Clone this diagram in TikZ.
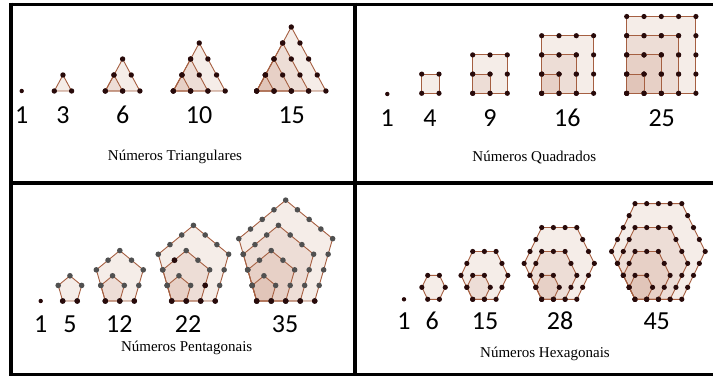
\documentclass[tikz,border=0pt]{standalone}
\usepackage{fontspec}
\newfontfamily\numfont{Carlito}
\newfontfamily\titfont{Liberation Serif}
\usetikzlibrary{calc}
\definecolor{linha}{RGB}{165,95,65}
\definecolor{preenche}{RGB}{195,140,115}
\definecolor{escuro}{RGB}{40,10,10}
\definecolor{cinza}{RGB}{80,80,80}
\tikzstyle{figura}  = [draw=linha, line width=0.9pt, fill=preenche, fill opacity=0.16]
\tikzstyle{ponto}   = [fill=escuro]
\tikzstyle{pontoc}  = [fill=cinza]
\tikzstyle{numero}  = [anchor=base, inner sep=0pt, font=\numfont\fontsize{26}{26}\selectfont]
\tikzstyle{titulo}  = [anchor=base, inner sep=0pt, font=\titfont\fontsize{15}{15}\selectfont]
\tikzstyle{moldura} = [line width=4pt]

\begin{document}
\begin{tikzpicture}[x=1pt,y=-1pt]
\useasboundingbox (0,0) rectangle (713,378);

% moldura
\draw[moldura] (11,2.5) -- (11,376);
\draw[moldura] (354.7,2.5) -- (354.7,376);
\draw[moldura,line width=3pt] (9,4.5) -- (713,4.5);
\draw[moldura] (9,183) -- (713,183);
\draw[moldura,line width=3pt] (9,374.7) -- (713,374.7);

% triangulares
\fill[ponto] (21.7,91) circle[radius=2.2pt];
\foreach \x/\n in {54.3/1,105.3/2,173.3/3,256.7/4}{
  \foreach \k in {\n,...,1}{
    \filldraw[figura] (\x,91) coordinate (v0) -- ++(\k*17.3,0) coordinate (v1)
      -- ++(-\k*8.65,-\k*16) coordinate (v2) -- cycle;
    \foreach \a/\b in {v0/v1,v1/v2,v2/v0}
      \foreach \t in {1,...,\k}
        \fill[ponto] ($(\a)!\t/\k!(\b)$) circle[radius=2.7pt];
  }
}
\node[numero] (t1) at (21.7,123) {1};
\node[numero] (t3) at (63,123) {3};
\node[numero] (t6) at (122.7,123) {6};
\node[numero] (t10) at (199,123) {10};
\node[numero] (t15) at (291.7,123) {15};
\node[titulo] (tri) at (175,160) {Números Triangulares};

% quadrados
\fill[ponto] (387.3,94) circle[radius=2.2pt];
\foreach \x/\n in {421.7/1,472.7/2,541.7/3,626.7/4}{
  \foreach \k in {\n,...,1}{
    \filldraw[figura] (\x,93.3) rectangle ++(\k*17.3,-\k*19.2);
    \foreach \i in {0,...,\k}
      \foreach \j in {0,...,\k}
        \fill[ponto] (\x+\i*17.3,93.3-\j*19.2) circle[radius=2.6pt];
  }
}
\node[numero] (q1) at (387.3,126) {1};
\node[numero] (q4) at (430,126) {4};
\node[numero] (q9) at (490,126) {9};
\node[numero] (q16) at (567.3,126) {16};
\node[numero] (q25) at (661.7,126) {25};
\node[titulo] (qua) at (534.3,161.7) {Números Quadrados};

% pentagonais
\fill[ponto] (40.7,301) circle[radius=2.2pt];
\foreach \x/\n in {62.7/1,105.3/2,171.7/3,256.7/4}{
  \foreach \k in {\n,...,1}{
    \filldraw[figura] (\x,301) coordinate (v0) -- ++(\k*14.5,0) coordinate (v1)
      -- ++(\k*4.481,-\k*15.583) coordinate (v2) -- ++(-\k*11.73,-\k*9.632) coordinate (v3)
      -- ++(-\k*11.73,\k*9.632) coordinate (v4) -- cycle;
    \foreach \a/\b in {v0/v1,v1/v2,v2/v3,v3/v4,v4/v0}
      \foreach \t in {1,...,\k}
        \fill[pontoc] ($(\a)!\t/\k!(\b)$) circle[radius=2.8pt];
  }
  \foreach \t in {0,...,\n}
    \fill[ponto] (\x+\t*14.5,301) circle[radius=2.8pt];
}
\fill[ponto] (205.2,285.4) circle[radius=2.8pt];
\fill[ponto] (174.5,260.2) circle[radius=2.8pt];
\node[numero] (p1) at (40.7,332) {1};
\node[numero] (p5) at (70,332) {5};
\node[numero] (p12) at (119.3,332) {12};
\node[numero] (p22) at (188,332) {22};
\node[numero] (p35) at (285,332) {35};
\node[titulo] (pen) at (186.7,351.7) {Números Pentagonais};

% hexagonais
\fill[ponto] (404,299.3) circle[radius=2.2pt];
\foreach \x/\n in {427.7/1,472.7/2,541.7/3,635/4}{
  \foreach \k in {\n,...,1}{
    \filldraw[figura] (\x,299.3) coordinate (v0) -- ++(\k*11.7,0) coordinate (v1)
      -- ++(\k*5.85,-\k*11.96) coordinate (v2) -- ++(-\k*5.85,-\k*11.96) coordinate (v3)
      -- ++(-\k*11.7,0) coordinate (v4) -- ++(-\k*5.85,\k*11.96) coordinate (v5) -- cycle;
    \foreach \a/\b in {v0/v1,v1/v2,v2/v3,v3/v4,v4/v5,v5/v0}
      \foreach \t in {1,...,\k}
        \fill[ponto] ($(\a)!\t/\k!(\b)$) circle[radius=2.6pt];
  }
}
\node[numero] (h1) at (404,329) {1};
\node[numero] (h6) at (432.3,329) {6};
\node[numero] (h15) at (485,329) {15};
\node[numero] (h28) at (560,329) {28};
\node[numero] (h45) at (656.7,329) {45};
\node[titulo] (hex) at (545,357.7) {Números Hexagonais};

\end{tikzpicture}
\end{document}
